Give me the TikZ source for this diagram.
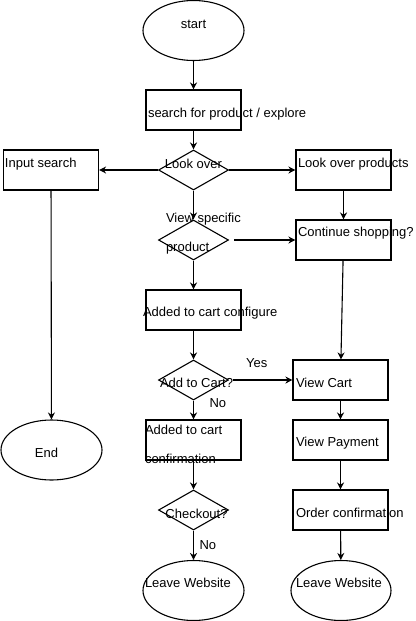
\documentclass[tikz,border=0pt]{standalone}
\usepackage{fontspec}
\setmainfont{Liberation Sans}
\usetikzlibrary{arrows.meta,shapes.geometric}

\begin{document}
\begin{tikzpicture}[->,>={Stealth[length=7pt,width=7pt]},auto,x=1pt,y=-1pt,
                    line width=1.1pt,font=\fontsize{13}{15}\selectfont]
  \tikzstyle{every node}=[inner sep=0pt]
  \tikzstyle{box}=[draw,rectangle,minimum width=95pt,minimum height=40pt]
  \tikzstyle{choice}=[draw,diamond,minimum width=70pt,minimum height=40pt]
  \tikzstyle{terminal}=[draw,ellipse,minimum width=101pt,minimum height=60pt]
  \tikzstyle{txt}=[anchor=west,inner sep=0pt]
  \useasboundingbox (0,0) rectangle (415,621);

  \node[terminal,label={[yshift=6pt]center:start}] (start) at (193.5,30.5) {};
  \node[box,label={[txt,xshift=2pt,yshift=-4pt]west:search for product / explore}] (search) at (193.5,110) {};
  \node[choice,label={[yshift=6pt]center:Look over}] (look) at (193.5,170) {};
  \node[box,label={[txt,xshift=1.5pt,yshift=6pt]west:Input search}] (input) at (51,170) {};
  \node[box,label={[txt,xshift=2pt,yshift=6pt]west:Look over products}] (lookprod) at (343.5,170) {};
  \node[choice,label={[txt,align=left,xshift=7.5pt,yshift=6pt]west:View specific\\[14pt]product}] (view) at (193.5,240) {};
  \node[box,label={[txt,xshift=2pt,yshift=7pt]west:Continue shopping?}] (cont) at (343.5,240) {};
  \node[box,label={[txt,xshift=-3pt,yshift=-3pt]west:Added to cart configure}] (config) at (193.5,310) {};
  \node[choice,label={[xshift=3pt,yshift=-3pt]center:Add to Cart?}] (addcart) at (193.5,380) {};
  \node[box,label={[txt,xshift=3pt,yshift=-3pt]west:View Cart}] (cart) at (340.5,380) {};
  \node[box,label={[txt,align=left,xshift=-1pt,yshift=-4pt]west:Added to cart\\[14pt]confirmation}] (confirm) at (193.5,440) {};
  \node[box,label={[txt,xshift=3pt,yshift=-3pt]west:View Payment}] (payment) at (340.5,440) {};
  \node[choice,label={[xshift=3pt,yshift=-4pt]center:Checkout?}] (checkout) at (193.5,510) {};
  \node[box,label={[txt,xshift=3pt,yshift=-3pt]west:Order confirmation}] (order) at (340.5,510) {};
  \node[terminal,label={[txt,xshift=2pt,yshift=7.5pt]west:Leave Website}] (leave) at (193.5,590.5) {};
  \node[terminal,minimum width=100pt,label={[txt,xshift=5pt,yshift=7.5pt]west:Leave Website}] (exit) at (341,590.5) {};
  \node[terminal,label={[xshift=-5pt,yshift=-3pt]center:End}] (theend) at (51.5,450) {};

  \path (start) edge (search)
   (search) edge (look)
   (look) edge (input)
   (look) edge (lookprod)
   (look) edge (view)
   (lookprod) edge (cont)
   (input) edge (theend)
   (view) edge [shorten <=5pt] (cont)
   (view) edge (config)
   (config) edge (addcart)
   (cont) edge (cart)
   (addcart) edge [shorten <=4pt] node [above=12pt,xshift=-4pt] {Yes} (cart)
   (addcart) edge node [pos=0.15,right=15.5pt] {No} (confirm)
   (cart) edge (payment)
   (confirm) edge (checkout)
   (checkout) edge node [midway,right=5.5pt] {No} (leave)
   (payment) edge (order)
   (order) edge (exit);
\end{tikzpicture}
\end{document}
